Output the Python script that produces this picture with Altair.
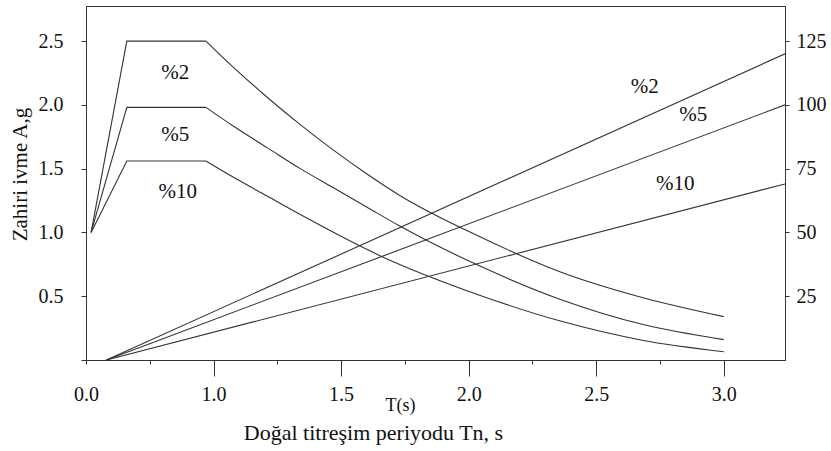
import altair as alt
import pandas as pd

# ---- acceleration spectra (left axis, A in g) ----
# rising branch + plateau (straight segments)
T_RISE = [0.52, 0.66, 0.97]
A_RISE_2 = [1.0, 2.5, 2.5]
A_RISE_5 = [1.0, 1.98, 1.98]
A_RISE_10 = [1.0, 1.56, 1.56]

# descending branch (smooth curves)
T_DEC_2 = [0.97, 1.08, 1.21, 1.34, 1.47, 1.60, 1.73, 2.04, 2.36, 2.68, 3.0]
A_DEC_2 = [2.5, 2.29, 2.06, 1.845, 1.645, 1.46, 1.29, 0.97, 0.69, 0.49, 0.34]

T_DEC_5 = [0.97, 1.08, 1.21, 1.34, 1.47, 1.60, 1.73, 2.04, 2.36, 2.68, 3.0]
A_DEC_5 = [1.98, 1.83, 1.665, 1.50, 1.35, 1.20, 1.05, 0.74, 0.475, 0.28, 0.16]

T_DEC_10 = [0.97, 1.08, 1.21, 1.34, 1.65, 2.04, 2.36, 2.68, 3.0]
A_DEC_10 = [1.56, 1.43, 1.285, 1.14, 0.82, 0.51, 0.305, 0.155, 0.065]

# ---- displacement lines (right axis) ----
T_DISP = [0.58, 3.24]
D_2 = [0, 120]
D_5 = [0, 100]
D_10 = [0, 69]

# ---- curve labels ----
LABEL_TEXT = ["%2", "%5", "%10", "%2", "%5", "%10"]
LABEL_T = [0.85, 0.85, 0.86, 2.69, 2.88, 2.81]
LABEL_A = [2.25, 1.76, 1.32, 2.14, 1.92, 1.38]

# ---- axes ----
X_DOMAIN = [0.5, 3.24]
X_TICKS_MAJOR = [0.5, 1.0, 1.5, 2.0, 2.5, 3.0]
X_TICKS_MINOR = [0.5, 0.75, 1.25, 1.75, 2.25, 2.75]
Y_DOMAIN = [0, 2.775]
Y_TICKS = [0, 0.5, 1.0, 1.5, 2.0, 2.5]
D_DOMAIN = [0, 138.75]
D_TICKS = [25, 50, 75, 100, 125]

FONT = "Liberation Serif"
INK = "#333333"

rise = pd.concat([
    pd.DataFrame({"T": T_RISE, "A": A_RISE_2, "s": "%2"}),
    pd.DataFrame({"T": T_RISE, "A": A_RISE_5, "s": "%5"}),
    pd.DataFrame({"T": T_RISE, "A": A_RISE_10, "s": "%10"}),
])
dec = pd.concat([
    pd.DataFrame({"T": T_DEC_2, "A": A_DEC_2, "s": "%2"}),
    pd.DataFrame({"T": T_DEC_5, "A": A_DEC_5, "s": "%5"}),
    pd.DataFrame({"T": T_DEC_10, "A": A_DEC_10, "s": "%10"}),
])

disp = pd.concat([
    pd.DataFrame({"T": T_DISP, "D": D_2, "s": "%2"}),
    pd.DataFrame({"T": T_DISP, "D": D_5, "s": "%5"}),
    pd.DataFrame({"T": T_DISP, "D": D_10, "s": "%10"}),
])

labels = pd.DataFrame({"T": LABEL_T, "A": LABEL_A, "txt": LABEL_TEXT})

xscale = alt.Scale(domain=X_DOMAIN, nice=False, zero=False)
yscale = alt.Scale(domain=Y_DOMAIN, nice=False)

rise_layer = alt.Chart(rise).mark_line(color=INK, strokeWidth=1.1, clip=True).encode(
    x=alt.X("T:Q", scale=xscale, axis=alt.Axis(
        orient="bottom", values=X_TICKS_MAJOR, tickSize=16,
        tickOpacity={"condition": {"test": "datum.value == 0.5", "value": 0}, "value": 1},
        labelExpr="datum.value == 0.5 ? '0.0' : format(datum.value, '.1f')",
        labelFlush=False, labelOverlap=False,
        labelPadding=8, labelFontSize=20,
        title="T(s)", titleFontSize=18, titleX=314, titleY=45,
        titleAlign="center", titleBaseline="middle")),
    y=alt.Y("A:Q", scale=yscale, axis=alt.Axis(
        orient="left", values=Y_TICKS, tickSize=5, labelPadding=18, labelFontSize=20,
        labelFlush=False, labelOverlap=False,
        labelExpr="datum.value == 0 ? '' : format(datum.value, '.1f')",
        title="Zahiri ivme A,g", titleFontSize=21, titleX=-66, titleY=168,
        titleAngle=-90, titleAlign="center", titleBaseline="middle")),
    detail="s:N",
)

dec_layer = alt.Chart(dec).mark_line(
    color=INK, strokeWidth=1.1, clip=True, interpolate="monotone"
).encode(
    x=alt.X("T:Q", scale=xscale, axis=None),
    y=alt.Y("A:Q", scale=yscale, axis=None),
    detail="s:N",
)

lines = alt.Chart(disp).mark_line(color=INK, strokeWidth=1.1, clip=True).encode(
    x=alt.X("T:Q", scale=xscale, axis=alt.Axis(
        orient="bottom", values=X_TICKS_MINOR, tickSize=4, labels=False, domain=False,
        title="Doğal titreşim periyodu Tn, s", titleFontSize=22, titleX=287, titleY=72,
        titleAlign="center", titleBaseline="middle")),
    y=alt.Y("D:Q", scale=alt.Scale(domain=D_DOMAIN, nice=False), axis=alt.Axis(
        orient="right", values=D_TICKS, tickSize=4, labelPadding=7, labelFontSize=20,
        labelFlush=False, labelOverlap=False, title=None)),
    detail="s:N",
)

texts = alt.Chart(labels).mark_text(font=FONT, fontSize=21, color="#111111").encode(
    x=alt.X("T:Q", scale=xscale, axis=None),
    y=alt.Y("A:Q", scale=yscale, axis=None),
    text="txt:N",
)

chart = alt.layer(rise_layer, dec_layer, lines, texts).resolve_scale(
    y="independent"
).resolve_axis(
    x="independent", y="independent"
).properties(
    width=699, height=354,
    autosize=alt.AutoSizeParams(type="none"),
    padding={"left": 86, "top": 6, "right": 46, "bottom": 91},
    background="white",
).configure_view(
    stroke=INK, strokeWidth=1
).configure_axis(
    domainColor=INK, tickColor=INK, labelColor="#111111", titleColor="#111111",
    labelFont=FONT, titleFont=FONT, titleFontWeight="normal", grid=False,
)

chart.save("out.html", embed_options={"renderer": "svg", "actions": False})
